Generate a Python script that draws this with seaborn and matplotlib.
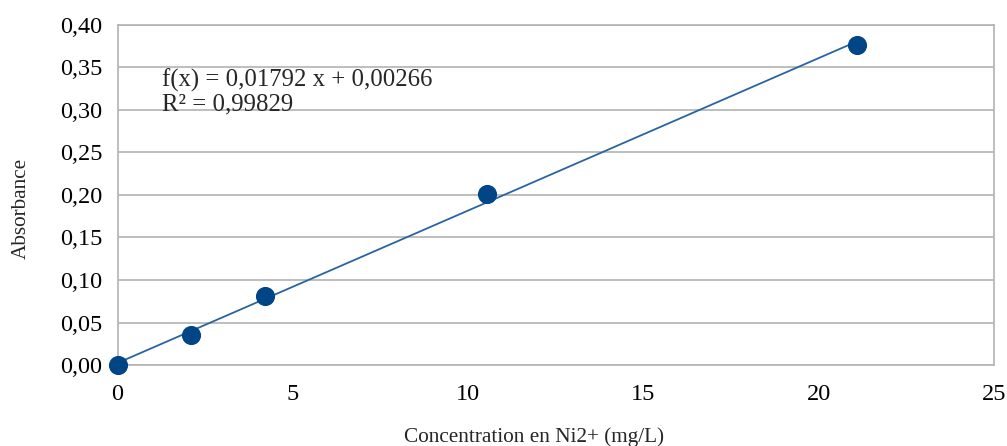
import numpy as np
import pandas as pd
import seaborn as sns
import matplotlib.pyplot as plt
from matplotlib.ticker import FuncFormatter, MultipleLocator

# calibration data
concentration = [0.0, 2.11, 4.22, 10.55, 21.1]
absorbance = [0.0, 0.035, 0.081, 0.201, 0.376]
eq_line = 'f(x) = 0,01792 x + 0,00266'
r2_line = 'R² = 0,99829'

df = pd.DataFrame({'Concentration': concentration, 'Absorbance': absorbance})

sns.set_style('white')
plt.rcParams['font.family'] = ['Liberation Serif', 'DejaVu Serif']

fig = plt.figure(figsize=(10.07, 4.46), dpi=100)
ax = fig.add_axes([0.1167, 0.1816, 0.8704, 0.7624])

sns.regplot(data=df, x='Concentration', y='Absorbance', ax=ax, ci=None, truncate=True,
            scatter_kws={'s': 190, 'color': '#004586', 'alpha': 1, 'zorder': 4,
                         'linewidths': 0, 'clip_on': False},
            line_kws={'color': '#2a64a0', 'lw': 1.3, 'zorder': 3})

ax.set_xlim(0, 25)
ax.set_ylim(0, 0.40)
ax.xaxis.set_major_locator(MultipleLocator(5))
ax.yaxis.set_major_locator(MultipleLocator(0.05))
ax.yaxis.set_major_formatter(FuncFormatter(lambda v, p: f'{v:.2f}'.replace('.', ',')))
ax.grid(axis='y', color='#b3b3b3', lw=1.2)
ax.set_axisbelow(True)
for s in ax.spines.values():
    s.set_color('#b3b3b3')
    s.set_linewidth(1.2)
ax.tick_params(axis='both', which='both', length=8, width=1.2, color='#b3b3b3',
               labelsize=17.5, colors='#b3b3b3', labelcolor='black', pad=3)
ax.tick_params(axis='x', pad=6)

ax.set_xlabel('Concentration en Ni2+ (mg/L)', fontsize=15.3)
ax.xaxis.set_label_coords(0.475, -0.182)
ax.set_ylabel('Absorbance', fontsize=15.3)
ax.yaxis.set_label_coords(-0.099, 0.459)

ax.text(1.27, 0.327, eq_line, fontsize=17.8, va='baseline', ha='left')
ax.text(1.27, 0.299, r2_line, fontsize=17.8, va='baseline', ha='left')

fig.savefig('out.png', dpi=100)
